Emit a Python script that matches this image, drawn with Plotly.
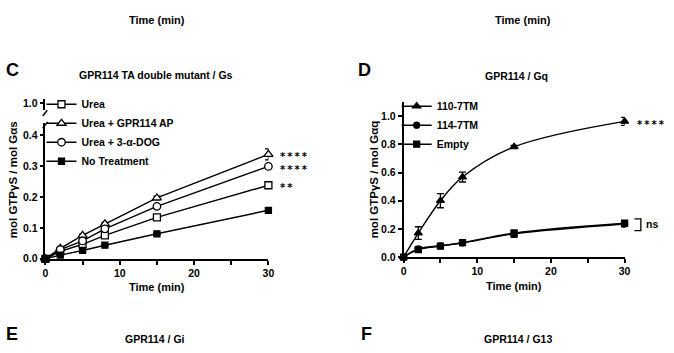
import plotly.graph_objects as go

W, H = 674, 353
def X(px): return px / W
def Y(py): return 1 - py / H

# ---------------- data ----------------
time_min = [0, 2, 5, 8, 15, 30]
x_ticks = [0, 5, 10, 15, 20, 25, 30]
x_ticktext = ["0", "", "10", "", "20", "", "30"]

# Panel C: GPR114 TA double mutant / Gs
c_urea = [0, 0.024, 0.047, 0.076, 0.134, 0.238]
c_urea_ap = [0, 0.034, 0.076, 0.113, 0.197, 0.338]
c_urea_dog = [0, 0.030, 0.058, 0.097, 0.170, 0.299]
c_none = [0, 0.012, 0.027, 0.044, 0.081, 0.157]
c_urea_err = [0, 0.003, 0.003, 0.004, 0.004, 0.005]
c_urea_ap_err = [0, 0.004, 0.004, 0.005, 0.006, 0.018]
c_urea_dog_err = [0, 0.003, 0.003, 0.004, 0.005, 0.006]
c_none_err = [0, 0.002, 0.002, 0.003, 0.003, 0.004]
c_names = ["Urea", "Urea + GPR114 AP", "Urea + 3-α-DOG", "No Treatment"]
c_y_ticks = [0.0, 0.1, 0.2, 0.3, 0.4]

# Panel D: GPR114 / Gq
d_110 = [0, 0.17, 0.40, 0.568, 0.782, 0.963]
d_110_err = [0, 0.045, 0.05, 0.035, 0.01, 0.028]
d_114 = [0, 0.058, 0.080, 0.100, 0.165, 0.235]
d_114_err = [0, 0.01, 0.012, 0.01, 0.025, 0.02]
d_empty = [0, 0.053, 0.078, 0.102, 0.170, 0.240]
d_empty_err = [0, 0.008, 0.01, 0.01, 0.02, 0.018]
d_names = ["110-7TM", "114-7TM", "Empty"]
d_y_ticks = [0.0, 0.2, 0.4, 0.6, 0.8, 1.0]

FONT = "Liberation Sans, Arial, sans-serif"
fig = go.Figure()

def add(x, y, err, name, symbol, filled, xa, ya, legend, size=7, shape="linear"):
    fig.add_trace(go.Scatter(
        x=x, y=y, name=name, mode="lines+markers", xaxis=xa, yaxis=ya,
        legend=legend, cliponaxis=False,
        line=dict(color="black", width=1.4, shape=shape),
        marker=dict(symbol=symbol, size=size,
                    color="black" if filled else "white",
                    line=dict(color="black", width=1.3)),
        error_y=dict(type="data", array=err, color="black", thickness=1.3, width=3.5),
    ))

add(time_min, c_urea, c_urea_err, c_names[0], "square", False, "x", "y", "legend", size=7)
add(time_min, c_urea_ap, c_urea_ap_err, c_names[1], "triangle-up", False, "x", "y", "legend", size=8)
add(time_min, c_urea_dog, c_urea_dog_err, c_names[2], "circle", False, "x", "y", "legend", size=7.5)
add(time_min, c_none, c_none_err, c_names[3], "square", True, "x", "y", "legend", size=6)

add(time_min, d_110, d_110_err, d_names[0], "triangle-up", True, "x2", "y2", "legend2", size=7, shape="spline")
add(time_min, d_114, d_114_err, d_names[1], "circle", True, "x2", "y2", "legend2", size=6, shape="spline")
add(time_min, d_empty, d_empty_err, d_names[2], "square", True, "x2", "y2", "legend2", size=6, shape="spline")

# invisible trace so the upper broken-axis segment exists
fig.add_trace(go.Scatter(x=[None], y=[None], xaxis="x", yaxis="y3", showlegend=False))

ax = dict(showline=True, linecolor="black", linewidth=1.5, ticks="outside",
          ticklen=4, tickwidth=1.5, tickcolor="black", showgrid=False,
          zeroline=False, tickfont=dict(size=10.5, family=FONT, color="black", weight="bold"))

fig.update_layout(
    width=W, height=H, margin=dict(l=0, r=0, t=0, b=0),
    paper_bgcolor="white", plot_bgcolor="white",
    font=dict(family=FONT, size=10, color="black", weight="bold"),
    xaxis=dict(**ax, domain=[X(43), X(269)], range=[0, 30], anchor="y",
               tickvals=x_ticks, ticktext=x_ticktext),
    yaxis=dict(**ax, domain=[Y(262.5), Y(123)], range=[0, 0.44], anchor="x",
               tickvals=c_y_ticks, tickformat=".1f"),
    yaxis3=dict(**ax, domain=[Y(110), Y(99)], range=[1.0 - 0.0230, 1.0 + 0.0116],
                anchor="x", tickvals=[1.0], tickformat=".1f"),
    xaxis2=dict(**ax, domain=[X(406), X(630)], range=[0, 30], anchor="y2",
                tickvals=x_ticks, ticktext=x_ticktext),
    yaxis2=dict(**ax, domain=[Y(260.7), Y(101.7)], range=[0, 1.1], anchor="x2",
                tickvals=d_y_ticks, tickformat=".1f"),
    legend=dict(x=X(39), y=Y(89), xanchor="left", yanchor="top",
                bgcolor="rgba(0,0,0,0)", font=dict(size=10.5), itemwidth=30,
                tracegroupgap=0),
    legend2=dict(x=X(399), y=Y(91), xanchor="left", yanchor="top",
                 bgcolor="rgba(0,0,0,0)", font=dict(size=10.5), itemwidth=30,
                 tracegroupgap=0),
    showlegend=True,
)

# broken axis slashes
for (x0, y0, x1, y1) in [(40.3, 116, 44.8, 110), (40.3, 128.5, 45.2, 122)]:
    fig.add_shape(type="line", xref="paper", yref="paper",
                  x0=X(x0), y0=Y(y0), x1=X(x1), y1=Y(y1),
                  line=dict(color="black", width=1.5))
# ns bracket
fig.add_shape(type="path", xref="paper", yref="paper",
              path=f"M {X(640)} {Y(221.5)} L {X(646.5)} {Y(221.5)} L {X(646.5)} {Y(233.5)} L {X(640)} {Y(233.5)}",
              line=dict(color="black", width=1.3))

def note(text, px, py, size=10, xanchor="center", angle=0, family=FONT, align="center"):
    fig.add_annotation(text=text, x=X(px), y=Y(py), xref="paper", yref="paper",
                       showarrow=False, xanchor=xanchor, yanchor="middle", align=align,
                       textangle=angle, font=dict(size=size, family=family, color="black", weight="bold"))

# panel letters and titles
note("C", 9.5, 69, size=18)
note("GPR114 TA double mutant / Gs", 155, 74, size=10.5)
note("D", 366, 69, size=18)
note("GPR114 / Gq", 520, 75, size=10.5)
note("E", 9, 340, size=18)
note("GPR114 / Gi", 154, 345, size=10.5)
note("F", 368, 340, size=18)
note("GPR114 / G13", 522, 345, size=10.5)

# axis titles
note("mol GTPγS / mol Gαs", 11, 181, size=11.5, angle=-90)
note("mol GTPγS / mol Gαq", 376, 181, size=11.5, angle=-90)
note("Time (min)", 156, 291, size=11)
note("Time (min)", 518, 290, size=11)
note("Time (min)", 156, 17, size=11)
note("Time (min)", 527, 17, size=11)

# significance
STAR = "DejaVu Sans, sans-serif"
S4 = "*\u2009*\u2009*\u2009*"
note(S4 + "<br>" + S4, 279, 164, size=10, xanchor="left", family=STAR, align="left")
note("*\u2009*", 279, 189, size=10, xanchor="left", family=STAR)
note(S4, 641, 125, size=10, xanchor="left", family=STAR)
note("ns", 650, 227, size=10.5, xanchor="left")

fig.write_html("out.html")
